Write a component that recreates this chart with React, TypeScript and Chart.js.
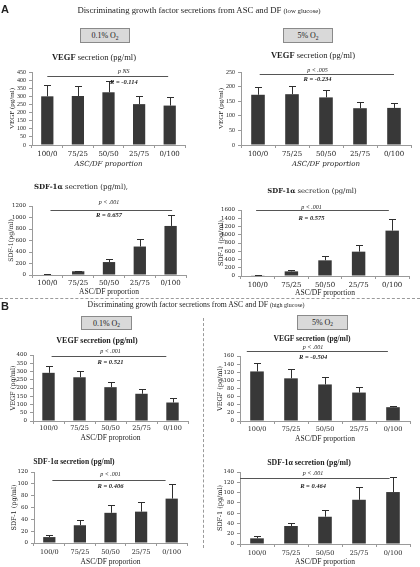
import React, { useEffect, useRef } from "react";
import { Chart, registerables } from "chart.js";
Chart.register(...registerables);

// ---------------- data ----------------
const categories = ["100/0", "75/25", "50/50", "25/75", "0/100"];

const vegfLow01 = [300, 302, 325, 252, 243];
const vegfLow01Err = [70, 60, 70, 50, 53];
const vegfLow5 = [172, 174, 163, 126, 127];
const vegfLow5Err = [27, 29, 26, 22, 18];
const sdfLow01 = [8, 65, 225, 495, 853];
const sdfLow01Err = [12, 13, 60, 123, 187];
const sdfLow5 = [8, 112, 380, 590, 1100];
const sdfLow5Err = [14, 38, 115, 165, 290];

const vegfHigh01 = [292, 265, 205, 165, 112];
const vegfHigh01Err = [41, 37, 30, 27, 25];
const vegfHigh5 = [122, 105, 90, 70, 34];
const vegfHigh5Err = [22, 22, 18, 13, 3];
const sdfHigh01 = [10, 30, 51, 53, 75];
const sdfHigh01Err = [4, 9, 14, 16, 24];
const sdfHigh5 = [11, 35, 53, 86, 101];
const sdfHigh5Err = [4, 6, 13, 25, 29];

const pLabels = ["p NS", "p < .005", "p < .001", "p < .001", "p < .001", "p < .001", "p < .001", "p < .001"];
const rLabels = ["R = -0.114", "R = -0.234", "R = 0.657", "R = 0.575", "R = 0.521", "R = -0.504", "R = 0.406", "R = 0.464"];
const yMaxes = [450, 250, 1200, 1600, 400, 160, 120, 140];
const ySteps = [50, 50, 200, 200, 50, 20, 20, 20];
const sigLevels = [424, 244, 1125, 1600, 396, 172, 106, 129];
const yTitles = ["VEGF (pg/ml)", "VEGF (pg/ml)", "SDF-1(pg/ml)", "SDF-1 (pg/ml)", "VEGF (pg/ml)", "VEGF (pg/ml)", "SDF-1 (pg/ml)", "SDF-1 (pg/ml)"];
const xTitles = ["ASC/DF proportion", "ASC/DF proportion", "ASC/DF proportion", "ASC/DF proportion", "ASC/DF proprotion", "ASC/DF proportion", "ASC/DF proportion", "ASC/DF proportion"];

// ---------------- styling ----------------
const Y_W = 32;
const R_PAD = 4;
const TXT = "#222";
const AXIS = "#9a9a9a";
const BAR = "#383838";
const TIMES = "'Liberation Serif', 'Times New Roman', serif";
const CAMB = "'DejaVu Serif', serif";

type Spec = {
  values: number[];
  errors: number[];
  idx: number;
  plotL: number; plotR: number; plotT: number; plotB: number; canvasT: number; canvasB: number;
  lineFrom: number; lineTo: number; textAt: number; pDy: number; rDy: number;
  yTickFont: any; yTitleFont: any; xTickFont: any; xTitleFont: any; xTickPad: number;
};

function makeDecor(s: Spec) {
  return {
    id: "decor" + s.idx,
    afterDatasetsDraw(chart: any) {
      const ctx = chart.ctx;
      const ys = chart.scales.y;
      const xs = chart.scales.x;
      const meta = chart.getDatasetMeta(0);
      ctx.save();
      ctx.strokeStyle = "#2f2f2f";
      ctx.lineWidth = 1;
      meta.data.forEach((el: any, i: number) => {
        const cx = Math.round(el.x) + 0.5;
        const yv = ys.getPixelForValue(s.values[i]);
        const yt = Math.round(ys.getPixelForValue(s.values[i] + s.errors[i])) + 0.5;
        ctx.beginPath();
        ctx.moveTo(cx, yv);
        ctx.lineTo(cx, yt);
        ctx.moveTo(cx - 3.5, yt);
        ctx.lineTo(cx + 3.5, yt);
        ctx.stroke();
      });
      const ly = Math.round(ys.getPixelForValue(sigLevels[s.idx])) + 0.5;
      const x0 = xs.getPixelForValue(s.lineFrom);
      const x1 = xs.getPixelForValue(s.lineTo);
      ctx.strokeStyle = "#555";
      ctx.beginPath();
      ctx.moveTo(x0, ly);
      ctx.lineTo(x1, ly);
      ctx.stroke();
      const tx = xs.getPixelForValue(s.textAt);
      ctx.fillStyle = TXT;
      ctx.textAlign = "center";
      ctx.textBaseline = "middle";
      ctx.font = `italic 6px ${TIMES}`;
      ctx.fillText(pLabels[s.idx], tx, ly + s.pDy);
      ctx.font = `italic bold 6.5px ${TIMES}`;
      ctx.fillText(rLabels[s.idx], tx, ly + s.rDy);
      ctx.restore();
    },
  };
}

function BarPanel({ spec }: { spec: Spec }) {
  const ref = useRef<HTMLCanvasElement | null>(null);
  const left = spec.plotL - Y_W;
  const width = Math.round(spec.plotR - left + R_PAD);
  const height = Math.round(spec.canvasB - spec.canvasT);
  useEffect(() => {
    const gridOpts = { display: true, drawOnChartArea: false, drawTicks: true, tickLength: 3, color: AXIS };
    const chart = new Chart(ref.current as HTMLCanvasElement, {
      type: "bar",
      data: {
        labels: categories,
        datasets: [
          { data: spec.values, backgroundColor: BAR, borderWidth: 0, barPercentage: 0.4, categoryPercentage: 1 },
        ],
      },
      options: {
        responsive: false,
        animation: false,
        devicePixelRatio: 1,
        layout: { padding: { top: spec.plotT - spec.canvasT, right: R_PAD, left: 0, bottom: 0 } },
        plugins: { legend: { display: false }, tooltip: { enabled: false }, title: { display: false } },
        scales: {
          x: {
            grid: { ...gridOpts, offset: true },
            border: { color: AXIS, width: 1 },
            ticks: { font: spec.xTickFont, color: TXT, padding: spec.xTickPad, maxRotation: 0, autoSkip: false },
            title: { display: true, text: xTitles[spec.idx], font: spec.xTitleFont, color: TXT, padding: 0 },
            afterFit: (sc: any) => { sc.height = spec.canvasB - spec.plotB; },
          },
          y: {
            min: 0,
            max: yMaxes[spec.idx],
            grid: gridOpts,
            border: { color: AXIS, width: 1 },
            ticks: { stepSize: ySteps[spec.idx], autoSkip: false, font: spec.yTickFont, color: TXT, padding: 3, callback: (v: any) => String(v) },
            title: { display: true, text: yTitles[spec.idx], font: spec.yTitleFont, color: TXT, padding: { top: 8, bottom: 0 } },
            afterFit: (sc: any) => { sc.width = Y_W; },
          },
        },
      } as any,
      plugins: [makeDecor(spec)],
    });
    return () => chart.destroy();
  }, []);
  return (
    <canvas
      ref={ref}
      width={width}
      height={height}
      style={{ position: "absolute", left, top: spec.canvasT, width, height }}
    />
  );
}

const fTimes = (size: number, style = "normal", weight: any = "normal") => ({ family: TIMES, size, style, weight, lineHeight: 1.2 });
const fCamb = (size: number, style = "normal", weight: any = "normal") => ({ family: CAMB, size, style, weight, lineHeight: 1.2 });

const specs: Spec[] = [
  {
    idx: 0, values: vegfLow01, errors: vegfLow01Err,
    plotL: 32, plotR: 185, plotT: 72, plotB: 145, canvasT: 58, canvasB: 168,
    lineFrom: 0, lineTo: 3.95, textAt: 2.5, pDy: -5, rDy: 6,
    yTickFont: fTimes(6), yTitleFont: fTimes(7), xTickFont: fCamb(7), xTitleFont: fCamb(7, "italic"), xTickPad: 2,
  },
  {
    idx: 1, values: vegfLow5, errors: vegfLow5Err,
    plotL: 241, plotR: 411, plotT: 72, plotB: 145, canvasT: 58, canvasB: 168,
    lineFrom: 0.05, lineTo: 4, textAt: 1.75, pDy: -4.5, rDy: 5,
    yTickFont: fTimes(6), yTitleFont: fTimes(7), xTickFont: fCamb(7), xTitleFont: fCamb(7, "italic"), xTickPad: 2,
  },
  {
    idx: 2, values: sdfLow01, errors: sdfLow01Err,
    plotL: 32, plotR: 186, plotT: 206, plotB: 275, canvasT: 192, canvasB: 297,
    lineFrom: 0.1, lineTo: 4.05, textAt: 2, pDy: -8, rDy: 5,
    yTickFont: fCamb(5.5), yTitleFont: fCamb(6.3), xTickFont: fCamb(7), xTitleFont: fTimes(7.5), xTickPad: 1,
  },
  {
    idx: 3, values: sdfLow5, errors: sdfLow5Err,
    plotL: 241, plotR: 409, plotT: 210, plotB: 276, canvasT: 196, canvasB: 298,
    lineFrom: -0.05, lineTo: 3.9, textAt: 1.6, pDy: -3.5, rDy: 7.5,
    yTickFont: fCamb(5.5), yTitleFont: fCamb(6.5), xTickFont: fCamb(7), xTitleFont: fTimes(7.5), xTickPad: 2,
  },
  {
    idx: 4, values: vegfHigh01, errors: vegfHigh01Err,
    plotL: 32.5, plotR: 187.5, plotT: 355, plotB: 421, canvasT: 342, canvasB: 443,
    lineFrom: 0.1, lineTo: 3.8, textAt: 2, pDy: -5, rDy: 5.5,
    yTickFont: fCamb(5.5), yTitleFont: fCamb(6.5), xTickFont: fCamb(6.5), xTitleFont: fTimes(7.5), xTickPad: 0,
  },
  {
    idx: 5, values: vegfHigh5, errors: vegfHigh5Err,
    plotL: 240, plotR: 410, plotT: 356, plotB: 421, canvasT: 334, canvasB: 444,
    lineFrom: -0.3, lineTo: 3.85, textAt: 1.65, pDy: -4.5, rDy: 6,
    yTickFont: fCamb(5.5), yTitleFont: fCamb(6.5), xTickFont: fCamb(6.5), xTitleFont: fTimes(7.5), xTickPad: 1,
  },
  {
    idx: 6, values: sdfHigh01, errors: sdfHigh01Err,
    plotL: 34, plotR: 187, plotT: 472, plotB: 543, canvasT: 464, canvasB: 567,
    lineFrom: 0.1, lineTo: 3.8, textAt: 2, pDy: -6.5, rDy: 5.5,
    yTickFont: fCamb(5.5), yTitleFont: fCamb(6.5), xTickFont: fCamb(6.5), xTitleFont: fTimes(7.5), xTickPad: 2,
  },
  {
    idx: 7, values: sdfHigh5, errors: sdfHigh5Err,
    plotL: 240, plotR: 410, plotT: 472, plotB: 544, canvasT: 462, canvasB: 567,
    lineFrom: -0.5, lineTo: 3.9, textAt: 1.65, pDy: -5, rDy: 7.5,
    yTickFont: fCamb(5.5), yTitleFont: fCamb(6.5), xTickFont: fCamb(6.5), xTitleFont: fTimes(7.5), xTickPad: 2,
  },
];

function Txt({ x, y, size, family = TIMES, weight = "normal", style = "normal", children }: any) {
  return (
    <div
      style={{
        position: "absolute", left: x, top: y, transform: "translate(-50%, -50%)",
        whiteSpace: "nowrap", fontSize: size, fontFamily: family, fontWeight: weight,
        fontStyle: style, color: TXT, lineHeight: 1, willChange: "transform",
      }}
    >
      {children}
    </div>
  );
}

function O2Box({ cx, cy, w, h, label }: any) {
  return (
    <div
      style={{
        position: "absolute", left: cx - w / 2, top: cy - h / 2, width: w, height: h,
        boxSizing: "border-box", background: "#d9d9d9", border: "1px solid #8a8a8a",
        display: "flex", alignItems: "center", justifyContent: "center",
        fontFamily: TIMES, fontSize: 8, color: TXT, whiteSpace: "nowrap",
      }}
    >
      {label}&nbsp;O<span style={{ fontSize: 5.5, position: "relative", top: 2 }}>2</span>
    </div>
  );
}

export default function App() {
  return (
    <div
      style={{
        position: "absolute", left: 0, top: 0, width: 420, height: 567,
        background: "#fff", overflow: "hidden", fontFamily: TIMES, color: TXT,
      }}
    >
      {/* Panel A */}
      <Txt x={5} y={9} size={11} family="'Liberation Sans', Arial, sans-serif" weight="bold">A</Txt>
      <Txt x={199} y={10} size={8.7}>
        Discriminating growth factor secretions from ASC and DF <span style={{ fontSize: 6.8 }}>(low glucose)</span>
      </Txt>
      <O2Box cx={105} cy={35.5} w={50} h={15} label="0.1%" />
      <O2Box cx={308} cy={35.5} w={50} h={15} label="5%" />
      <Txt x={94} y={57} size={8.5}><b>VEGF</b> secretion (pg/ml)</Txt>
      <Txt x={313} y={55} size={8.5}><b>VEGF</b> secretion (pg/ml)</Txt>
      <Txt x={81} y={187} size={7} family={CAMB}><b>SDF-1α</b> secretion (pg/ml),</Txt>
      <Txt x={312} y={191} size={6.8} family={CAMB}><b>SDF-1α</b> secretion (pg/ml)</Txt>

      {/* separators */}
      <div style={{ position: "absolute", left: 0, top: 298, width: 420, height: 0, borderTop: "1px dashed #9a9a9a" }} />
      <div style={{ position: "absolute", left: 203, top: 318, width: 0, height: 230, borderLeft: "1px dashed #9a9a9a" }} />

      {/* Panel B */}
      <Txt x={5} y={306} size={11} family="'Liberation Sans', Arial, sans-serif" weight="bold">B</Txt>
      <Txt x={196} y={305} size={7.7}>
        Discriminating growth factor secretions from ASC and DF <span style={{ fontSize: 6 }}>(high glucose)</span>
      </Txt>
      <O2Box cx={106.5} cy={323} w={51} h={14} label="0.1%" />
      <O2Box cx={322.5} cy={322} w={51} h={15} label="5%" />
      <Txt x={96.5} y={341} size={8} weight="bold">VEGF secretion (pg/ml)</Txt>
      <Txt x={312} y={339} size={7.6} weight="bold">VEGF secretion (pg/ml)</Txt>
      <Txt x={74} y={462} size={7.6} weight="bold">SDF-1α secretion (pg/ml)</Txt>
      <Txt x={309} y={463} size={7.8} weight="bold">SDF-1α secretion (pg/ml)</Txt>

      {specs.map((s) => (
        <BarPanel key={s.idx} spec={s} />
      ))}
    </div>
  );
}
